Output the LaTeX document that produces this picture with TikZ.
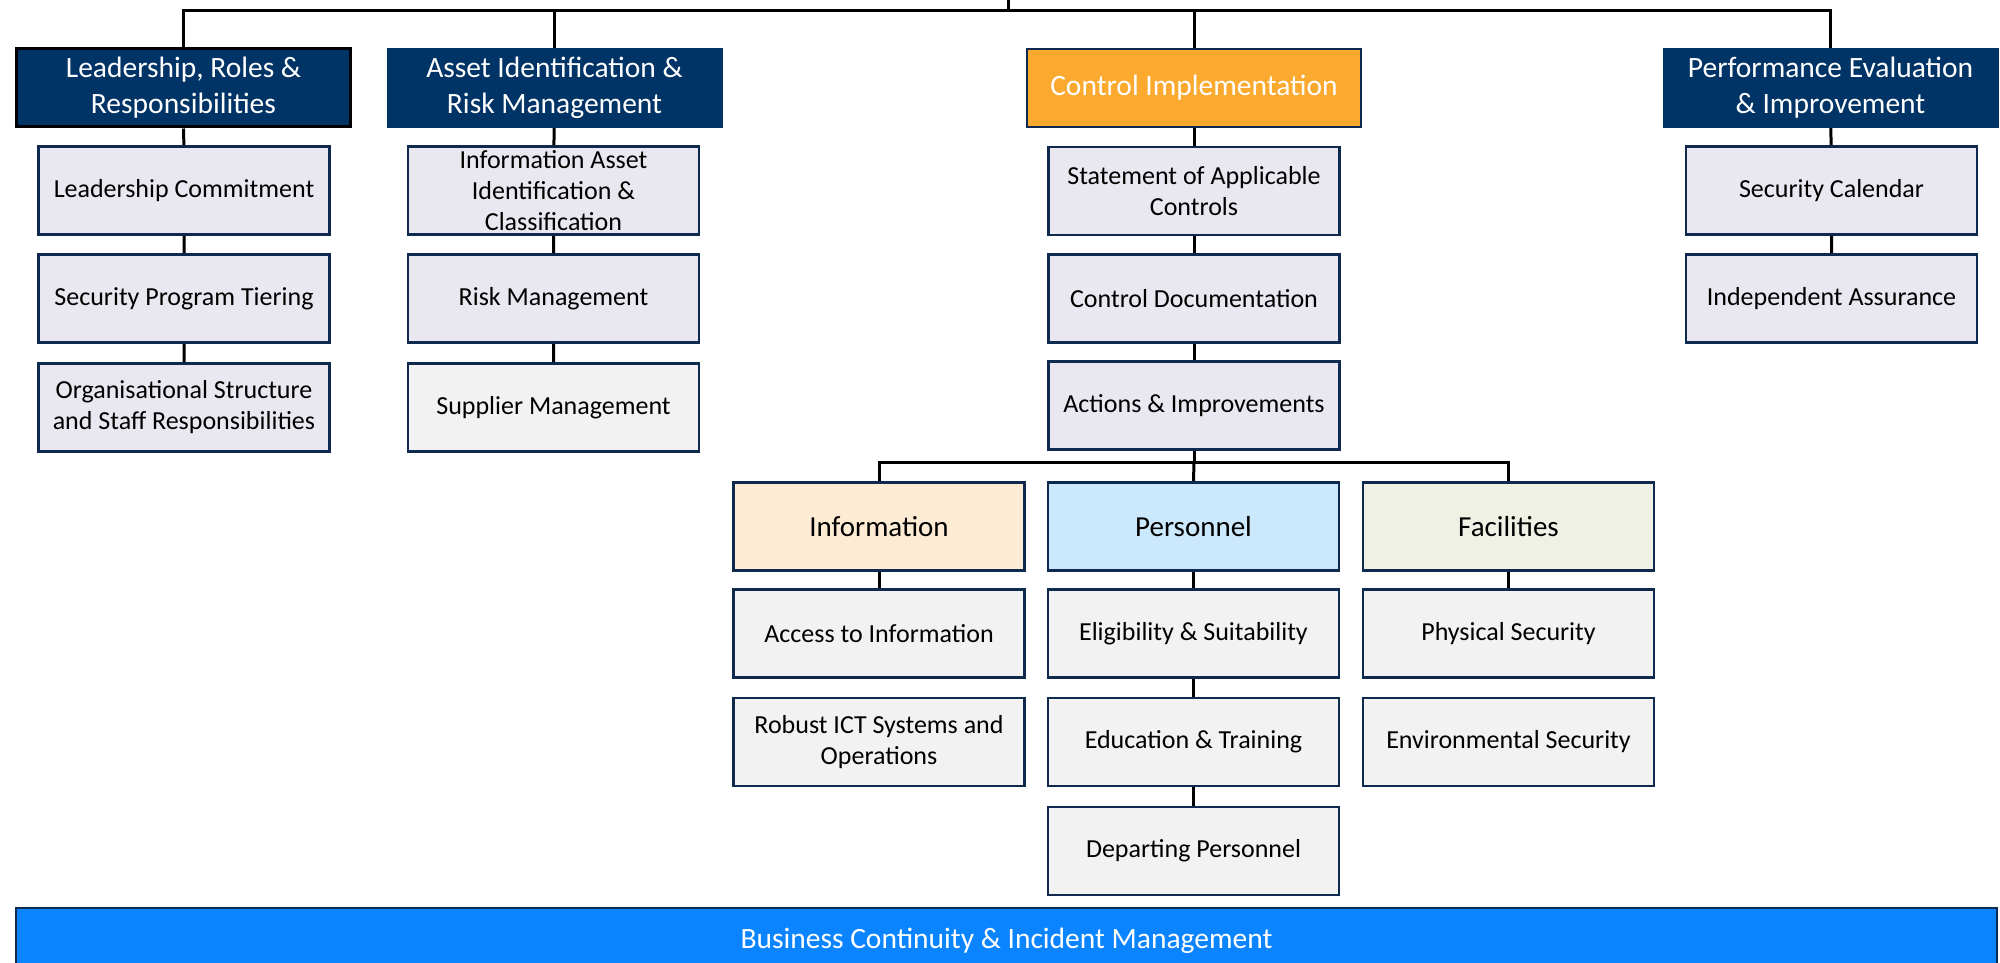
\documentclass[tikz,border=0pt]{standalone}
\usepackage{fontspec}
\setmainfont{Carlito}
\definecolor{navy}{RGB}{0,51,102}
\definecolor{boxline}{RGB}{14,42,79}
\definecolor{lav}{RGB}{233,231,239}
\definecolor{pale}{RGB}{242,242,242}
\definecolor{amber}{RGB}{252,169,47}
\definecolor{peach}{RGB}{253,235,212}
\definecolor{skyfill}{RGB}{204,232,253}
\definecolor{sage}{RGB}{238,241,227}
\definecolor{brightblue}{RGB}{10,132,255}
\begin{document}
\begin{tikzpicture}[x=1pt,y=-1pt,
  box/.style={draw=boxline, line width=2.8pt, inner sep=2pt, align=center,
    minimum width=291pt, minimum height=88pt, font=\fontsize{26}{31}\selectfont},
  item/.style={box, fill=lav},
  subitem/.style={box, fill=pale},
  subhead/.style={box, font=\fontsize{29}{35}\selectfont},
  head/.style={draw=navy, fill=navy, text=white, line width=2pt, inner sep=2pt,
    minimum width=334pt, minimum height=78pt, align=center,
    font=\fontsize{29.5}{36}\selectfont},
  link/.style={line width=3pt, draw=black}]
\useasboundingbox (0,0) rectangle (2000,963);

% top-level pillars
\node[head, draw=black, line width=3pt] (hA) at (183.5,88) {Leadership, Roles \&\\Responsibilities};
\node[head] (hB) at (554.5,88) {Asset Identification \&\\Risk Management};
\node[head, fill=amber, draw=boxline] (hC) at (1194,88) {Control Implementation};
\node[head] (hD) at (1830.5,88) {Performance Evaluation\\\& Improvement};

% leadership column
\node[item] (a1) at (184,190.5) {Leadership Commitment};
\node[item] (a2) at (184,298.5) {Security Program Tiering};
\node[item] (a3) at (184,407.5) {Organisational Structure\\and Staff Responsibilities};

% asset / risk column
\node[item] (b1) at (553.5,190.5) {Information Asset\\Identification \&\\Classification};
\node[item] (b2) at (553.5,298.5) {Risk Management};
\node[subitem] (b3) at (553.5,407.5) {Supplier Management};

% control column
\node[item] (c1) at (1194,191) {Statement of Applicable\\Controls};
\node[item] (c2) at (1194,298.5) {Control Documentation};
\node[item] (c3) at (1194,405.5) {Actions \& Improvements};

% performance column
\node[item] (d1) at (1831.5,190.5) {Security Calendar};
\node[item] (d2) at (1831.5,298.5) {Independent Assurance};

% control domains
\node[subhead, fill=peach] (sI) at (879,526.5) {Information};
\node[subhead, fill=skyfill] (sP) at (1193.5,526.5) {Personnel};
\node[subhead, fill=sage] (sF) at (1508.5,526.5) {Facilities};

\node[subitem] (i1) at (879,633.5) {Access to Information};
\node[subitem] (i2) at (879,742) {Robust ICT Systems and\\Operations};
\node[subitem] (p1) at (1193.5,633.5) {Eligibility \& Suitability};
\node[subitem] (p2) at (1193.5,742) {Education \& Training};
\node[subitem] (p3) at (1193.5,851) {Departing Personnel};
\node[subitem] (f1) at (1508.5,633.5) {Physical Security};
\node[subitem] (f2) at (1508.5,742) {Environmental Security};

% foundation bar
\node[draw=boxline, fill=brightblue, line width=2.6pt, text=white,
  minimum width=1981pt, minimum height=66pt, inner sep=0pt,
  font=\fontsize{29.5}{36}\selectfont] (bc) at (1006.5,941) {Business Continuity \& Incident Management};

% connectors
\coordinate (root) at (1008,-2);
\coordinate (bus) at (1008,11);
\coordinate (sbus) at (1194,462);
\draw[link] (root) -- (bus);
\draw[link] (hA.north) |- (bus);
\draw[link] (hB.north) |- (bus);
\draw[link] (hC.north) |- (bus);
\draw[link] (hD.north) |- (bus);

\draw[link] (hA) -- (a1) (a1) -- (a2) (a2) -- (a3);
\draw[link] (hB) -- (b1) (b1) -- (b2) (b2) -- (b3);
\draw[link] (hC) -- (c1) (c1) -- (c2) (c2) -- (c3);
\draw[link] (hD) -- (d1) (d1) -- (d2);

\draw[link] (c3.south) -- (sbus);
\draw[link] (sbus) -| (sI.north);
\draw[link] (sbus) -| (sF.north);
\draw[link] (sbus) -- (sP.north);

\draw[link] (sI) -- (i1);
\draw[link] (sP) -- (p1) (p1) -- (p2) (p2) -- (p3);
\draw[link] (sF) -- (f1);
\end{tikzpicture}
\end{document}
